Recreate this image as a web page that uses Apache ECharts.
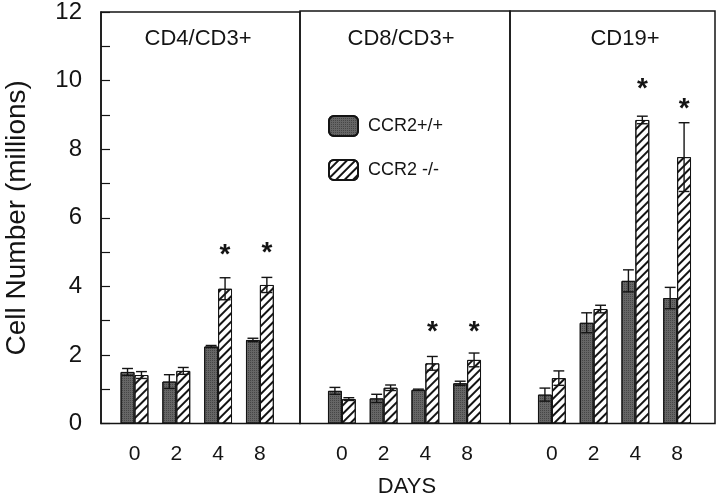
<!DOCTYPE html>
<html>
<head>
<meta charset="utf-8">
<script src="https://cdn.jsdelivr.net/npm/echarts@6/dist/echarts.min.js"></script>
<style>html,body{margin:0;padding:0;background:#fff}#c{width:720px;height:500px}</style>
</head>
<body>
<div id="c"></div>
<script>
const categories = ['0', '2', '4', '8'];
const panelTitles = ['CD4/CD3+', 'CD8/CD3+', 'CD19+'];
const seriesNames = ['CCR2+/+', 'CCR2 -/-'];

const cd4Wt = [1.50, 1.22, 2.24, 2.43];
const cd4WtErr = [0.10, 0.20, 0.03, 0.05];
const cd4Ko = [1.41, 1.53, 3.92, 4.03];
const cd4KoErr = [0.10, 0.10, 0.32, 0.22];
const cd4Stars = [null, null, 5.05, 5.10];

const cd8Wt = [0.95, 0.73, 0.98, 1.17];
const cd8WtErr = [0.10, 0.12, 0.02, 0.06];
const cd8Ko = [0.71, 1.04, 1.75, 1.85];
const cd8KoErr = [0.04, 0.08, 0.20, 0.20];
const cd8Stars = [null, null, 2.80, 2.80];

const cd19Wt = [0.84, 2.93, 4.15, 3.65];
const cd19WtErr = [0.19, 0.29, 0.32, 0.31];
const cd19Ko = [1.32, 3.33, 8.83, 7.75];
const cd19KoErr = [0.21, 0.11, 0.11, 1.00];
const cd19Stars = [null, null, 9.88, 9.30];

const yTicks = [0, 2, 4, 6, 8, 10, 12];
const xTitle = 'DAYS';
const yTitle = 'Cell Number (millions)';

const FONT = 'Liberation Sans, Arial, Helvetica, sans-serif';
const INK = '#141414';

const panels = [
  { wt: cd4Wt, wtErr: cd4WtErr, ko: cd4Ko, koErr: cd4KoErr, stars: cd4Stars },
  { wt: cd8Wt, wtErr: cd8WtErr, ko: cd8Ko, koErr: cd8KoErr, stars: cd8Stars },
  { wt: cd19Wt, wtErr: cd19WtErr, ko: cd19Ko, koErr: cd19KoErr, stars: cd19Stars }
];

const TOP = 11, HEIGHT = 412.5;
const frameBoxes = [[101, 199], [300, 210], [510, 205]];
const barBoxes = [[113.6, 167.2], [321, 167], [531, 167]];

const grids = [];
frameBoxes.forEach(b => grids.push({ left: b[0], width: b[1], top: TOP, height: HEIGHT, show: true, borderColor: INK, borderWidth: 1.5, backgroundColor: 'transparent', containLabel: false }));
barBoxes.forEach(b => grids.push({ left: b[0], width: b[1], top: TOP, height: HEIGHT, show: false, containLabel: false }));

const xAxes = [], yAxes = [];
for (let i = 0; i < 3; i++) {
  xAxes.push({ gridIndex: i, type: 'value', min: 0, max: 1, show: false, splitLine: { show: false } });
  yAxes.push(i === 0 ? {
    gridIndex: 0, type: 'value', min: 0, max: 12, interval: 1,
    axisLine: { show: true, lineStyle: { color: INK, width: 1.5 } },
    axisTick: { show: true, inside: true, length: 9, lineStyle: { color: INK, width: 1.2 } },
    axisLabel: { fontSize: 24, color: INK, fontFamily: FONT, margin: 19,
      formatter: v => (yTicks.indexOf(v) >= 0 ? String(v) : '') },
    splitLine: { show: false },
    name: yTitle, nameLocation: 'middle', nameRotate: 90, nameGap: 70,
    nameTextStyle: { fontSize: 28, color: INK, fontFamily: FONT }
  } : { gridIndex: i, type: 'value', min: 0, max: 12, show: false, splitLine: { show: false } });
}
for (let i = 0; i < 3; i++) {
  xAxes.push({
    gridIndex: 3 + i, type: 'category', data: categories, boundaryGap: true,
    axisLine: { show: false }, axisTick: { show: false }, splitLine: { show: false },
    axisLabel: { fontSize: 21, color: INK, fontFamily: FONT, margin: 20 }
  });
  yAxes.push({ gridIndex: 3 + i, type: 'value', min: 0, max: 12, show: false, splitLine: { show: false } });
}

const wtStyle = {
  color: '#666666', borderColor: INK, borderWidth: 1,
  decal: { symbol: 'rect', symbolSize: 1, color: 'rgba(30,30,30,0.45)', dashArrayX: [1, 1], dashArrayY: [1, 1] }
};
const koStyle = {
  color: '#ffffff', borderColor: INK, borderWidth: 1,
  decal: { symbol: 'rect', symbolSize: 1, color: INK, dashArrayX: [1, 0], dashArrayY: [1.6, 3.6], rotation: -Math.PI / 4 }
};

function errRender(side) {
  return function (params, api) {
    const c = api.value(0), v = api.value(1), e = api.value(2);
    const bw = api.size([1, 0])[0];
    const x = api.coord([c, v])[0] + side * bw / 6;
    const yT = api.coord([c, v + e])[1];
    const yB = api.coord([c, v - e])[1];
    const h = bw * 0.13;
    const st = { stroke: INK, lineWidth: 1.4 };
    return {
      type: 'group', children: [
        { type: 'line', shape: { x1: x, y1: yT, x2: x, y2: yB }, style: st },
        { type: 'line', shape: { x1: x - h, y1: yT, x2: x + h, y2: yT }, style: st },
        { type: 'line', shape: { x1: x - h, y1: yB, x2: x + h, y2: yB }, style: st }
      ]
    };
  };
}
function starRender(params, api) {
  const c = api.value(0), v = api.value(1);
  const bw = api.size([1, 0])[0];
  const p = api.coord([c, v]);
  return {
    type: 'text', x: p[0] + bw / 6, y: p[1] + 5,
    style: { text: '*', fontSize: 28, fontWeight: 'bold', fontFamily: FONT, fill: INK, align: 'center', verticalAlign: 'middle' }
  };
}

const series = [];
panels.forEach((p, i) => {
  const ax = { xAxisIndex: 3 + i, yAxisIndex: 3 + i };
  series.push(Object.assign({ type: 'bar', name: seriesNames[0], data: p.wt, barWidth: '33.3%', barGap: '0%', itemStyle: wtStyle, silent: true }, ax));
  series.push(Object.assign({ type: 'bar', name: seriesNames[1], data: p.ko, barWidth: '33.3%', barGap: '0%', itemStyle: koStyle, silent: true }, ax));
  series.push(Object.assign({ type: 'custom', renderItem: errRender(-1), encode: { x: 0, y: 1 }, z: 5,
    data: categories.map((c, k) => [k, p.wt[k], p.wtErr[k]]) }, ax));
  series.push(Object.assign({ type: 'custom', renderItem: errRender(1), encode: { x: 0, y: 1 }, z: 5,
    data: categories.map((c, k) => [k, p.ko[k], p.koErr[k]]) }, ax));
  series.push(Object.assign({ type: 'custom', renderItem: starRender, encode: { x: 0, y: 1 }, z: 5,
    data: categories.map((c, k) => [k, p.stars[k]]).filter(d => d[1] !== null) }, ax));
});

const titleCenters = [198, 401, 625];
const graphics = panelTitles.map((t, i) => ({
  type: 'text', x: titleCenters[i], y: 39,
  style: { text: t, fontSize: 22, fontFamily: FONT, fill: INK, align: 'center', verticalAlign: 'middle' }
}));
graphics.push({
  type: 'text', x: 407, y: 487,
  style: { text: xTitle, fontSize: 22, fontFamily: FONT, fill: INK, align: 'center', verticalAlign: 'middle' }
});

const chart = echarts.init(document.getElementById('c'), null, { renderer: 'canvas' });
chart.setOption({
  animation: false,
  backgroundColor: '#ffffff',
  textStyle: { fontFamily: FONT },
  grid: grids,
  xAxis: xAxes,
  yAxis: yAxes,
  legend: {
    data: seriesNames, orient: 'vertical', left: 328, top: 115, padding: 0,
    itemWidth: 29, itemHeight: 20, itemGap: 22, selectedMode: false,
    textStyle: { fontSize: 18, color: INK, fontFamily: FONT, padding: [0, 0, 0, 5] }
  },
  graphic: graphics,
  series: series
});
</script>
</body>
</html>
